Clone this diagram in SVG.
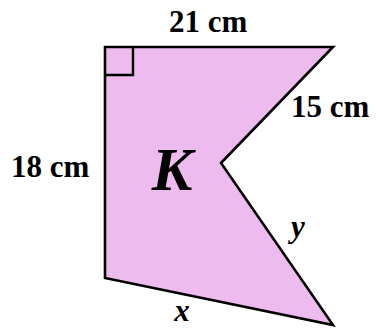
<svg xmlns="http://www.w3.org/2000/svg" width="376" height="331" viewBox="0 0 376 331">
<style>
.shape{fill:#EDBBED;stroke:#000;stroke-width:2.6;stroke-linejoin:miter}
.mark{fill:none;stroke:#000;stroke-width:2.4}
.lbl{font-family:"Liberation Serif","Times New Roman",serif;font-weight:bold;font-size:31px;fill:#000}
.var{font-family:"Liberation Serif","Times New Roman",serif;font-weight:bold;font-style:italic;font-size:31px;fill:#000}
</style>
<rect width="376" height="331" fill="#fff"/>
<g id="shapeK">
<polygon class="shape" points="105,47 333,47 221,163 333,325 105,278"/>
<polyline class="mark" points="105,75 133,75 133,47"/>
<text class="var" x="172" y="190" text-anchor="middle" style="font-size:61px">K</text>
</g>
<g id="labels">
<text class="lbl" x="169" y="32">21 cm</text>
<text class="lbl" x="291" y="117">15 cm</text>
<text class="lbl" x="11" y="177">18 cm</text>
<text class="var" x="298" y="237" text-anchor="middle">y</text>
<text class="var" x="182" y="321" text-anchor="middle">x</text>
</g>
</svg>
